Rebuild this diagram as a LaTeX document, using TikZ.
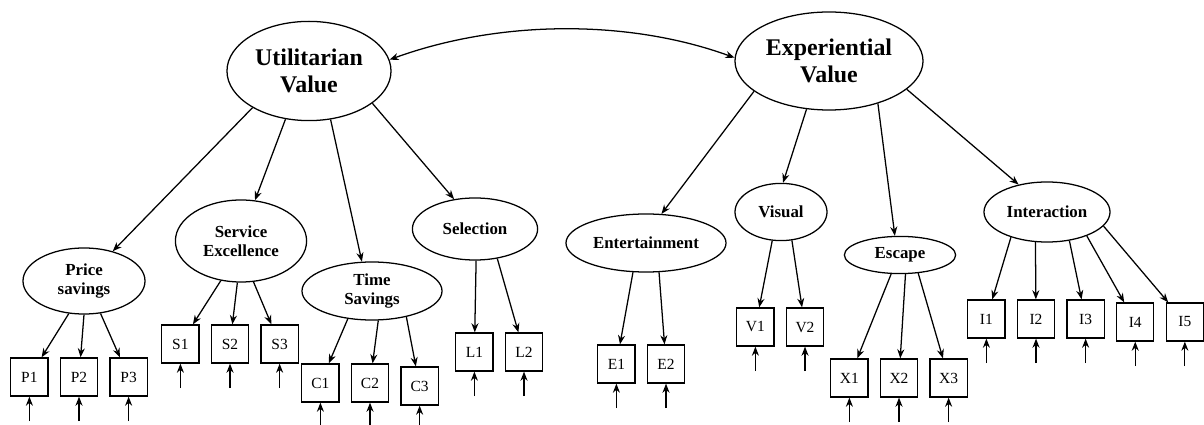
\documentclass[tikz,border=0pt]{standalone}
\usepackage{fontspec}
\setmainfont{Liberation Serif}
\usepackage{tikz}
\usetikzlibrary{arrows.meta}
\usetikzlibrary{shapes.geometric}

\begin{document}
\begin{tikzpicture}[
                x = 0.025cm, y = -0.025cm, % pixel grid, y pointing down
                > = {Stealth[length=6.5pt, width=5pt]}, % arrow head style
                node distance = 1.24cm, % distance between indicator boxes
                line width = 0.9pt % line style
        ]

        \tikzstyle{every node}=[font = \fontsize{11}{13}\selectfont]
        \tikzstyle{factor}=[
            ellipse,
            draw = black,
            inner sep = 0pt,
            align = center,
            font = \bfseries\fontsize{12}{13.5}\selectfont
        ]
        \tikzstyle{value}=[
            factor,
            font = \bfseries\fontsize{17}{19}\selectfont
        ]
        \tikzstyle{item}=[
            draw = black,
            minimum width = 0.93cm,
            minimum height = 0.95cm,
            inner sep = 0pt
        ]

        \useasboundingbox (0,0) rectangle (1204,425);

        % second order factors
        \node[value, minimum width = 4.1cm, minimum height = 2.48cm] (UV) at (309,71) {Utilitarian\\Value};
        \node[value, minimum width = 4.7cm, minimum height = 2.45cm] (EV) at (829,61) {Experiential\\Value};

        % first order factors
        \node[factor, minimum width = 3.05cm, minimum height = 1.65cm] (PS) at (84,281) {Price\\savings};
        \node[factor, minimum width = 3.28cm, minimum height = 2.05cm] (SE) at (241,241) {Service\\Excellence};
        \node[factor, minimum width = 3.5cm, minimum height = 1.45cm] (TS) at (372,291) {Time\\Savings};
        \node[factor, minimum width = 3.13cm, minimum height = 1.55cm] (SL) at (475,229) {Selection};
        \node[factor, minimum width = 4.0cm, minimum height = 1.45cm] (EN) at (646,243) {Entertainment};
        \node[factor, minimum width = 2.3cm, minimum height = 1.43cm] (VI) at (781,212) {Visual};
        \node[factor, minimum width = 2.78cm, minimum height = 0.93cm] (ES) at (900,255) {Escape};
        \node[factor, minimum width = 3.15cm, minimum height = 1.5cm] (IN) at (1047,212) {Interaction};

        % indicators
        \node[item] (P1) at (29.4,377) {P1};
        \node[item, right of = P1] (P2) {P2};
        \node[item, right of = P2] (P3) {P3};
        \node[item] (S1) at (180.4,344) {S1};
        \node[item, right of = S1] (S2) {S2};
        \node[item, right of = S2] (S3) {S3};
        \node[item] (C1) at (320.4,383) {C1};
        \node[item, right of = C1] (C2) {C2};
        \node[item, right of = C2, yshift = -0.075cm] (C3) {C3};
        \node[item] (L1) at (474.4,352) {L1};
        \node[item, right of = L1] (L2) {L2};
        \node[item] (E1) at (616.4,364) {E1};
        \node[item, right of = E1] (E2) {E2};
        \node[item] (V1) at (755.4,327) {V1};
        \node[item, right of = V1] (V2) {V2};
        \node[item] (X1) at (849.4,378) {X1};
        \node[item, right of = X1] (X2) {X2};
        \node[item, right of = X2] (X3) {X3};
        \node[item] (I1) at (986.4,319) {I1};
        \node[item, right of = I1] (I2) {I2};
        \node[item, right of = I2] (I3) {I3};
        \node[item, right of = I3, yshift = -0.075cm] (I4) {I4};
        \node[item, right of = I4] (I5) {I5};

        \draw[<->] (UV.8) to[out=20, in=160, looseness=0.85] (EV.178);

        \draw[->] (UV.213) -- (PS.46);
        \draw[->] (UV.244) -- (SE.71);
        \draw[->] (UV.294) -- (TS.109);
        \draw[->] (UV.333) -- (SL.125);
        \draw[->] (EV.202) -- (EN.62);
        \draw[->] (EV.245) -- (VI.86);
        \draw[->] (EV.319) -- (ES.105);
        \draw[->] (EV.340) -- (IN.136);

        \draw[->] (PS.245) -- (P1);
        \draw[->] (PS.270) -- (P2);
        \draw[->] (PS.297) -- (P3);
        \draw[->] (SE.243) -- (S1);
        \draw[->] (SE.265) -- (S2);
        \draw[->] (SE.287) -- (S3);
        \draw[->] (TS.229) -- (C1);
        \draw[->] (TS.282) -- (C2);
        \draw[->] (TS.323) -- (C3);
        \draw[->] (SL.272) -- (L1);
        \draw[->] (SL.307) -- (L2);
        \draw[->] (EN.246) -- (E1);
        \draw[->] (EN.294) -- (E2);
        \draw[->] (VI.253) -- (V1);
        \draw[->] (VI.291) -- (V2);
        \draw[->] (ES.245) -- (X1);
        \draw[->] (ES.286) -- (X2);
        \draw[->] (ES.315) -- (X3);
        \draw[->] (IN.215) -- (I1);
        \draw[->] (IN.249) -- (I2);
        \draw[->] (IN.308) -- (I3);
        \draw[->] (IN.329) -- (I4);
        \draw[->] (IN.346) -- (I5);

        % error terms
        \foreach \n in {P1,P2,P3,S1,S2,S3,C1,C2,C3,L1,L2,E1,E2,V1,V2,X1,X2,X3,I1,I2,I3,I4,I5} {
            \coordinate[below of = \n, node distance = 1.1cm] (e\n);
            \draw[->] (e\n) -- (\n);
        }

\end{tikzpicture}
\end{document}
